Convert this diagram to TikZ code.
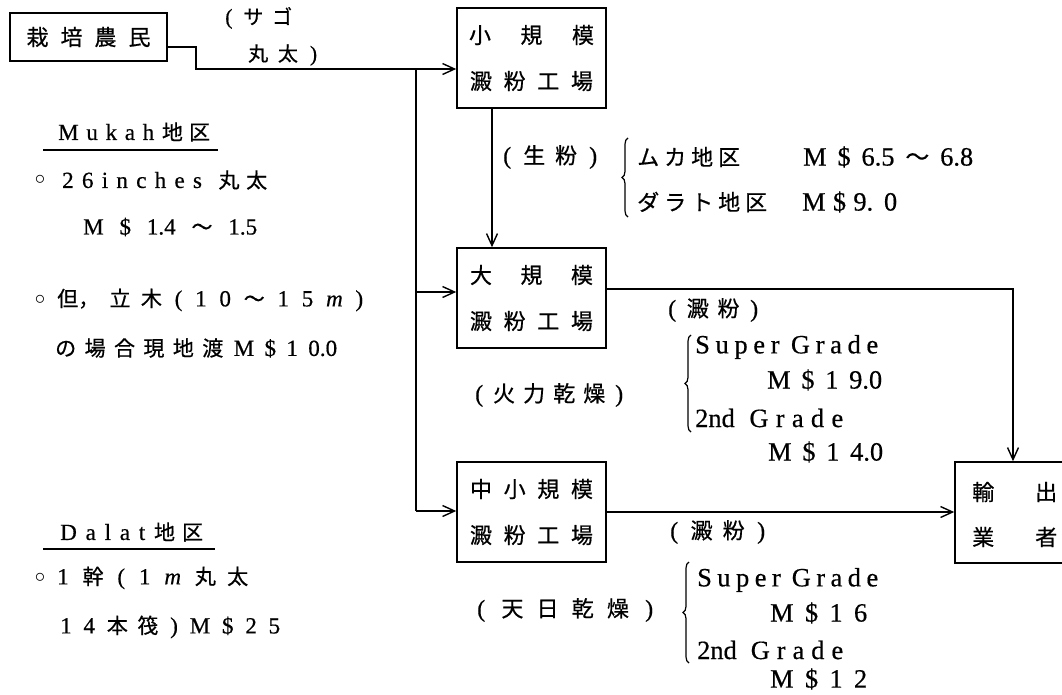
\documentclass[tikz,border=0pt]{standalone}
\usepackage{fontspec}
\setmainfont{Liberation Serif}[Scale=1.1,FakeBold=0.5]
\newfontfamily\jpf{Noto Sans CJK JP}[FakeBold=0.6]
\usetikzlibrary{arrows.meta,decorations.pathreplacing}
\newcommand\J[1]{{\jpf #1}}
\newcommand\sprd[2]{\makebox[#1pt][s]{#2}}
\tikzset{
 box/.style={draw, line width=1.6pt, inner sep=0pt, align=center},
 ln/.style={line width=1.4pt},
 arr/.style={line width=1.4pt, -{Straight Barb[length=12pt,width=11pt]}},
 lbl/.style={anchor=west, inner sep=0pt, font=\fontsize{22pt}{26pt}\selectfont},
 small/.style={anchor=west, inner sep=0pt, font=\fontsize{20pt}{24pt}\selectfont},
 note/.style={anchor=west, inner sep=0pt, font=\fontsize{21pt}{25pt}\selectfont},
 big/.style={anchor=west, inner sep=0pt, font=\fontsize{24pt}{29pt}\selectfont},
 bul/.style={inner sep=0pt, font=\fontsize{21pt}{25pt}\selectfont},
 br/.style={line width=1.2pt, decorate, decoration={brace, amplitude=6pt}},
 bx/.style={box, font=\fontsize{22pt}{46pt}\selectfont}
}
\begin{document}
\begin{tikzpicture}[x=1pt,y=-1pt]
\useasboundingbox (0,0) rectangle (1062,694);
\clip (0,0) rectangle (1062,694);

% boxes
\node[bx, minimum width=157pt, minimum height=48pt] (farmer) at (88.5,37) {\sprd{124}{\J{栽 培 農 民}}};
\node[bx, minimum width=149pt, minimum height=100pt] (smallf) at (531.5,58) {\sprd{125}{\J{小 規 模}}\\\sprd{123}{\J{澱 粉 工 場}}};
\node[bx, minimum width=149pt, minimum height=100pt] (large) at (531.5,298) {\sprd{123}{\J{大 規 模}}\\\sprd{123}{\J{澱 粉 工 場}}};
\node[bx, minimum width=149pt, minimum height=100pt] (mid) at (531.5,512) {\sprd{123}{\J{中 小 規 模}}\\\sprd{123}{\J{澱 粉 工 場}}};
\node[bx, minimum width=120pt, minimum height=101pt] (exp) at (1015,512.5) {};
\node[lbl] (exp1) at (972,492) {\sprd{85}{\J{輸 出}}};
\node[lbl] (exp2) at (972,537) {\sprd{85}{\J{業 者}}};

% connectors
\coordinate (j1) at (416,69);
\coordinate (j2) at (416,292);
\coordinate (j3) at (416,511);
\draw[arr] ([yshift=-10pt]farmer.east) -- ++(28pt,0) |- ([yshift=-11pt]smallf.west);
\draw[ln] (j1) -- (j3);
\draw[arr] (j2) -- (j2 -| large.west);
\draw[arr] (j3) -- (j3 -| mid.west);
\draw[arr] ([xshift=-39.5pt]smallf.south) -- ([xshift=-39.5pt]large.north);
\draw[arr] ([yshift=9pt]large.east) -| ([xshift=-2pt]exp.north);
\draw[arr] (mid.east) -- (mid.east -| exp.west);

% labels top
\node[small] (sago1) at (225,18) {\sprd{67}{( \J{サ ゴ}}};
\node[small] (sago2) at (248,55) {\sprd{69}{\J{丸 太} )}};
\node[lbl] (seifun) at (503,157) {\sprd{94}{( \J{生 粉} )}};
\draw[br] (628,217) -- (628,138);
\node[lbl] (mukaR) at (637,157) {\sprd{103}{\J{ム カ 地 区}}};
\node[big] (mukaP) at (803,157) {\sprd{170}{M \$ 6.5 \J{～} 6.8}};
\node[lbl] (dalatR) at (637,202) {\sprd{130}{\J{ダ ラ ト 地 区}}};
\node[big] (dalatP) at (802,202) {\sprd{95}{M \$ 9. 0}};

% large factory prices
\node[lbl] (dp1) at (668,310) {\sprd{90}{( \J{澱 粉} )}};
\draw[br] (691,432) -- (691,335);
\node[big] (sg1) at (695,347) {\sprd{183}{S u p e r \ G r a d e}};
\node[big] (p1) at (767,380) {\sprd{115}{M \$ 1 9.0}};
\node[big] (g1) at (695,418) {\sprd{148}{2nd \ G r a d e}};
\node[big] (p2) at (768,452) {\sprd{115}{M \$ 1 4.0}};
\node[lbl] (karyoku) at (475,395) {\sprd{148}{( \J{火 力 乾 燥} )}};

% mid factory prices
\node[lbl] (dp2) at (670,532) {\sprd{95}{( \J{澱 粉} )}};
\node[lbl] (tenpi) at (477,610) {\sprd{176}{( \J{天 日 乾 燥} )}};
\draw[br] (689,663) -- (689,562);
\node[big] (sg2) at (697,580) {\sprd{181}{S u p e r \ G r a d e}};
\node[big] (p3) at (770,613) {\sprd{97}{M \$ 1 6}};
\node[big] (g2) at (697,650) {\sprd{146}{2nd \ G r a d e}};
\node[big] (p4) at (770,679) {\sprd{97}{M \$ 1 2}};

% left notes
\node[note] (mukah) at (58,132) {\sprd{152}{M u k a h \J{地 区}}};
\draw[line width=1.2pt] (43,150) -- (218,150);
\node[bul] (b1) at (40,180) {$\circ$};
\node[note] (n1) at (62,180) {\sprd{205}{2 6 i n c h e s \ \J{丸 太}}};
\node[note] (n2) at (83,227) {\sprd{174}{M \$ 1.4 \J{～} 1.5}};
\node[bul] (b2) at (40,300) {$\circ$};
\node[note] (n3) at (57,300) {\sprd{306}{\J{但， 立 木} ( 1 0 \J{～} 1 5 \textit{m} )}};
\node[note] (n4) at (55,348) {\sprd{282}{\J{の 場 合 現 地 渡} M \$ 1 0.0}};
\node[note] (dalat) at (60,532) {\sprd{143}{D a l a t \J{地 区}}};
\draw[line width=1.2pt] (43,549) -- (215,549);
\node[bul] (b3) at (40,578) {$\circ$};
\node[note] (n5) at (57,578) {\sprd{191}{1 \J{幹} ( 1 \textit{m} \J{丸 太}}};
\node[note] (n6) at (60,627) {\sprd{220}{1 4 \J{本 筏} ) M \$ 2 5}};
\end{tikzpicture}
\end{document}
